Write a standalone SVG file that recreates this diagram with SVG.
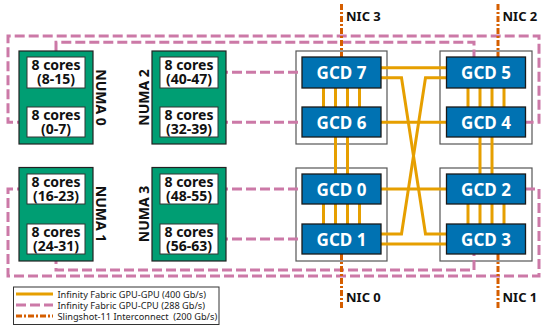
<svg xmlns="http://www.w3.org/2000/svg" width="541" height="328" viewBox="0 0 541 328">
<style>
text{font-family:"Noto Sans","Open Sans","DejaVu Sans",sans-serif;font-weight:bold}
.numa{fill:#009E73;stroke:#222;stroke-width:1.2}
.core{fill:#fff;stroke:#333;stroke-width:1}
.cont{fill:#fff;stroke:#555;stroke-width:1.2}
.gcd{fill:#0072B2;stroke:#1a1a1a;stroke-width:1.3}
.ct{font-size:14px;fill:#111;text-anchor:middle}
.nt{font-size:14px;fill:#111;text-anchor:middle}
.gt{font-size:17px;fill:#fff;text-anchor:middle}
.nic{font-size:13px;fill:#111}
.gg{fill:none;stroke:#E69F00;stroke-width:3}
.gc{fill:none;stroke:#CC79A7;stroke-width:3;stroke-dasharray:10,4}
.sl{fill:none;stroke:#D55E00;stroke-width:3;stroke-dasharray:6,2,2,2}
.lt{font-size:9.2px;font-weight:normal;fill:#222}
</style>
<g id="containers">
<rect id="pkg-76" class="cont" x="296" y="51" width="91" height="93"/>
<rect id="pkg-54" class="cont" x="440" y="51" width="92" height="93"/>
<rect id="pkg-01" class="cont" x="296" y="168" width="91" height="93"/>
<rect id="pkg-23" class="cont" x="440" y="168" width="92" height="93"/>
</g>
<g id="connectors">
<g id="gpu-gpu">
<path class="gg" d="M323.5 88V107M335.5 88V107M347.5 88V107M359.5 88V107"/>
<path class="gg" d="M335.5 137V174M347.5 137V174"/>
<path class="gg" d="M323.5 204V224M335.5 204V224M347.5 204V224M359.5 204V224"/>
<path class="gg" d="M468 88V107M480 88V107M492 88V107M504 88V107"/>
<path class="gg" d="M480 137V174M492 137V174"/>
<path class="gg" d="M468 204V224M480 204V224M492 204V224M504 204V224"/>
<path class="gg" d="M380 67.7H447"/>
<path class="gg" d="M380 122.3H447"/>
<path class="gg" d="M380 189H447"/>
<path class="gg" d="M380 244H447"/>
<path class="gg" d="M380 77.7H401.5L425.5 234H447"/>
<path class="gg" d="M447 77.7H425.5L401.5 234H380"/>
</g>
<g id="gpu-cpu">
<path class="gc" d="M27 122.3H8V36H539V122.3H525"/>
<path class="gc" d="M56 51V42.3H474V57"/>
<path class="gc" d="M218 72.3H302"/>
<path class="gc" d="M218 122.3H302"/>
<path class="gc" d="M27 189H8V276H539V189H525"/>
<path class="gc" d="M56 254V270H474V254"/>
<path class="gc" d="M218 189H302"/>
<path class="gc" d="M218 239H302"/>
</g>
<g id="slingshot">
<path class="sl" d="M341.5 4V57"/>
<path class="sl" d="M498 4V57"/>
<path class="sl" d="M341.5 254V309"/>
<path class="sl" d="M498 254V309"/>
</g>
</g>
<g id="numa0">
<rect class="numa" x="19" y="51" width="74" height="93"/>
<rect class="core" x="27" y="57" width="58" height="31"/>
<text class="ct" x="56" y="69.5">8 cores<tspan x="56" dy="14">(8-15)</tspan></text>
<rect class="core" x="27" y="107" width="58" height="30"/>
<text class="ct" x="56" y="119.5">8 cores<tspan x="56" dy="14">(0-7)</tspan></text>
<text class="nt" transform="translate(95.5 97.5) rotate(90)">NUMA 0</text>
</g>
<g id="numa2">
<rect class="numa" x="152" y="51" width="74" height="93"/>
<rect class="core" x="160" y="57" width="58" height="31"/>
<text class="ct" x="189" y="69.5">8 cores<tspan x="189" dy="14">(40-47)</tspan></text>
<rect class="core" x="160" y="107" width="58" height="30"/>
<text class="ct" x="189" y="119.5">8 cores<tspan x="189" dy="14">(32-39)</tspan></text>
<text class="nt" transform="translate(148.5 97.5) rotate(-90)">NUMA 2</text>
</g>
<g id="numa1">
<rect class="numa" x="19" y="167.5" width="74" height="93.5"/>
<rect class="core" x="27" y="174" width="58" height="30"/>
<text class="ct" x="56" y="186.5">8 cores<tspan x="56" dy="14">(16-23)</tspan></text>
<rect class="core" x="27" y="224" width="58" height="30"/>
<text class="ct" x="56" y="236.5">8 cores<tspan x="56" dy="14">(24-31)</tspan></text>
<text class="nt" transform="translate(95.5 214) rotate(90)">NUMA 1</text>
</g>
<g id="numa3">
<rect class="numa" x="152" y="167.5" width="74" height="93.5"/>
<rect class="core" x="160" y="174" width="58" height="30"/>
<text class="ct" x="189" y="186.5">8 cores<tspan x="189" dy="14">(48-55)</tspan></text>
<rect class="core" x="160" y="224" width="58" height="30"/>
<text class="ct" x="189" y="236.5">8 cores<tspan x="189" dy="14">(56-63)</tspan></text>
<text class="nt" transform="translate(148.5 214) rotate(-90)">NUMA 3</text>
</g>
<g id="gcd7"><rect class="gcd" x="302" y="57" width="79" height="31"/><text class="gt" x="341.5" y="79">GCD 7</text></g>
<g id="gcd6"><rect class="gcd" x="302" y="107" width="79" height="30"/><text class="gt" x="341.5" y="128.5">GCD 6</text></g>
<g id="gcd0"><rect class="gcd" x="302" y="174" width="79" height="30"/><text class="gt" x="341.5" y="195.5">GCD 0</text></g>
<g id="gcd1"><rect class="gcd" x="302" y="224" width="79" height="30"/><text class="gt" x="341.5" y="245.5">GCD 1</text></g>
<g id="gcd5"><rect class="gcd" x="446.5" y="57" width="79" height="31"/><text class="gt" x="486" y="79">GCD 5</text></g>
<g id="gcd4"><rect class="gcd" x="446.5" y="107" width="79" height="30"/><text class="gt" x="486" y="128.5">GCD 4</text></g>
<g id="gcd2"><rect class="gcd" x="446.5" y="174" width="79" height="30"/><text class="gt" x="486" y="195.5">GCD 2</text></g>
<g id="gcd3"><rect class="gcd" x="446.5" y="224" width="79" height="30"/><text class="gt" x="486" y="245.5">GCD 3</text></g>
<g id="nic-labels">
<text class="nic" x="346" y="20.5">NIC 3</text>
<text class="nic" x="502.5" y="20.5">NIC 2</text>
<text class="nic" x="346" y="302">NIC 0</text>
<text class="nic" x="502.5" y="302">NIC 1</text>
</g>
<g id="legend">
<rect x="13.5" y="287" width="205.5" height="37.5" fill="#fff" stroke="#333" stroke-width="1"/>
<path class="gg" d="M16 294H53"/>
<path class="gc" d="M16 305H53"/>
<path class="sl" d="M16 316H53"/>
<text class="lt" x="57.5" y="297.5" xml:space="preserve">Infinity Fabric GPU-GPU (400 Gb/s)<tspan x="57.5" dy="11">Infinity Fabric GPU-CPU (288 Gb/s)</tspan><tspan x="57.5" dy="11">Slingshot-11 Interconnect  (200 Gb/s)</tspan></text>
</g>
</svg>
